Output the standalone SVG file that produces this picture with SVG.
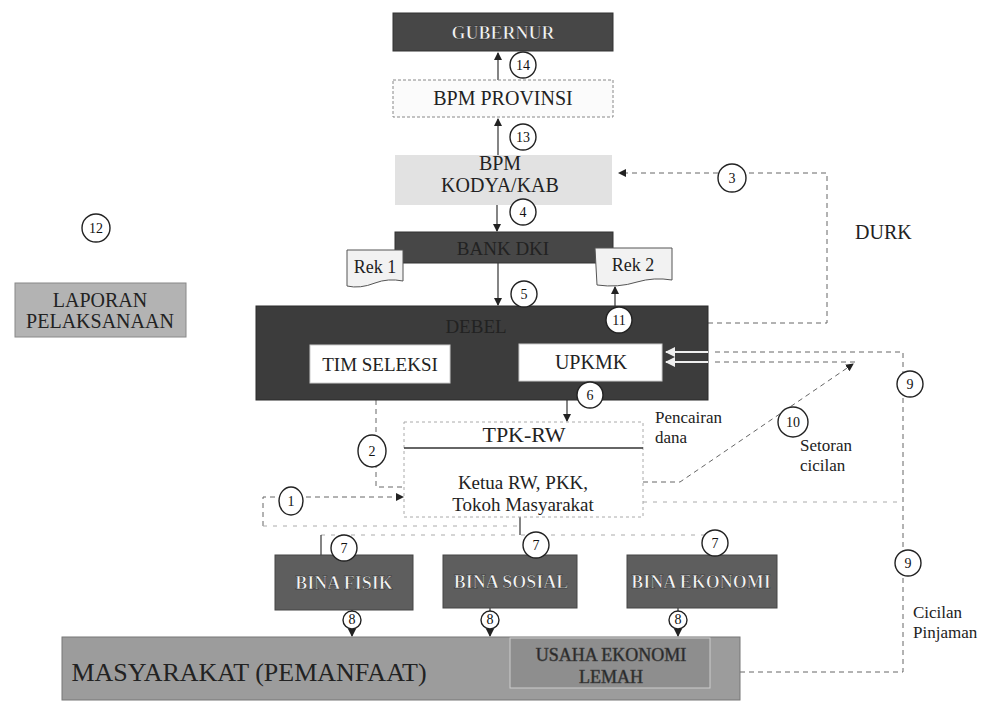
<svg xmlns="http://www.w3.org/2000/svg" width="994" height="702" viewBox="0 0 994 702">
<style>
.t{font-family:"Liberation Serif","DejaVu Serif",serif;fill:#222;text-anchor:middle}
.tw{font-family:"Liberation Serif","DejaVu Serif",serif;font-weight:bold;fill:#f4f4f4;text-anchor:middle;stroke:#222;stroke-width:0.5}
.tm{font-family:"Liberation Serif",serif;fill:#222;font-size:17px}
.n{font-family:"Liberation Serif",serif;font-size:14px;fill:#111;text-anchor:middle}
.c{fill:#fff;stroke:#222;stroke-width:1.4}
.ln{fill:none;stroke:#333;stroke-width:1.2}
.dl{fill:none;stroke:#666;stroke-width:1;stroke-dasharray:5 4}
.fl{fill:none;stroke:#aaa;stroke-width:1;stroke-dasharray:4 6}
.dark{fill:#474747;stroke:#333}
.mid{fill:#5e5e5e;stroke:#444}
</style>
<defs>
<marker id="ah" markerWidth="8" markerHeight="8" refX="7" refY="4" orient="auto" markerUnits="userSpaceOnUse"><path d="M0,0 L8,4 L0,8 z" fill="#222"/></marker>
<marker id="aw" markerWidth="10" markerHeight="10" refX="9" refY="5" orient="auto" markerUnits="userSpaceOnUse"><path d="M0,0 L10,5 L0,10 z" fill="#eee"/></marker>
</defs>
<rect width="994" height="702" fill="#fff"/>

<g id="connectors">
<path class="ln" d="M498,80 V53" marker-end="url(#ah)"/>
<path class="ln" d="M498,156 V119" marker-end="url(#ah)"/>
<path class="ln" d="M497,192 V231" marker-end="url(#ah)"/>
<path class="ln" d="M498,263 V305" marker-end="url(#ah)"/>
<path class="ln" d="M615,306 V287" marker-end="url(#ah)"/>
<path class="dl" d="M708,323 H827 V173 H619" marker-end="url(#ah)"/>
<path class="ln" d="M567,381 V421" marker-end="url(#ah)"/>
<path class="dl" d="M376,400 V487 H404"/>
<path class="dl" d="M263,526 V497 H403" marker-end="url(#ah)"/>
<path class="fl" d="M263,526 H520"/>
<path class="ln" d="M520,517 V535"/>
<path class="fl" d="M321,535 H715"/>
<path class="ln" d="M321,535 V555"/>
<path class="ln" d="M715,535 V545"/>
<path class="ln" d="M352,608 V636" marker-end="url(#ah)"/>
<path class="ln" d="M490,608 V636" marker-end="url(#ah)"/>
<path class="ln" d="M678,608 V636" marker-end="url(#ah)"/>
<path class="dl" d="M740,672 H903 V352 H712"/>
<path class="dl" d="M855,362 H712"/>
<path class="dl" d="M643,482 H680 L853,364" marker-end="url(#ah)"/>
<path class="fl" d="M643,502 H903"/>
</g>

<g id="gubernur"><rect x="393" y="13" width="220" height="38" class="dark"/><text x="503" y="39" class="tw" font-size="18">GUBERNUR</text></g>
<g id="bpm-provinsi"><rect x="393" y="80" width="220" height="37" fill="#fbfbfb" stroke="#888" stroke-dasharray="3 2"/><text x="503" y="105" class="t" font-size="20">BPM PROVINSI</text></g>
<g id="bpm-kodya"><rect x="395" y="155" width="217" height="50" fill="#e2e2e2"/><text x="500" y="170" class="t" font-size="20">BPM</text><text x="500" y="192" class="t" font-size="20">KODYA/KAB</text></g>
<g id="bank-dki"><rect x="395" y="232" width="218" height="31" class="dark"/><text x="503" y="255" class="t" font-size="19" fill="#2a2a2a">BANK DKI</text></g>
<g id="rek1"><path d="M347,250 H403 V281 Q388,278 375,283 Q360,289 347,286 Z" fill="#f2f2f2" stroke="#555"/><text x="375" y="273" class="t" font-size="18">Rek 1</text></g>
<g id="rek2"><path d="M595,248 H672 V280 Q654,277 637,282 Q618,288 597,285 Z" fill="#f2f2f2" stroke="#555"/><text x="633" y="271" class="t" font-size="18">Rek 2</text></g>
<g id="laporan"><rect x="15" y="283" width="171" height="54" fill="#b3b3b3" stroke="#888"/><text x="100" y="307" class="t" font-size="20">LAPORAN</text><text x="100" y="328" class="t" font-size="20">PELAKSANAAN</text></g>
<g id="debel"><rect x="256" y="306" width="452" height="94" fill="#3c3c3c" stroke="#2a2a2a"/><text x="476" y="333" class="t" font-size="19" fill="#1e1e1e">DEBEL</text></g>
<g id="tim-seleksi"><rect x="310" y="345" width="140" height="38" fill="#fff" stroke="#ccc"/><text x="380" y="371" class="t" font-size="19">TIM SELEKSI</text></g>
<g id="upkmk"><rect x="519" y="344" width="143" height="37" fill="#fff" stroke="#ccc"/><text x="591" y="369" class="t" font-size="20">UPKMK</text></g>
<g id="debel-arrows"><path d="M708,352 H666" stroke="#eee" stroke-width="2" marker-end="url(#aw)"/><path d="M708,362 H666" stroke="#eee" stroke-width="2" marker-end="url(#aw)"/></g>
<g id="tpk-rw"><rect x="404" y="422" width="239" height="95" fill="#fff" stroke="#aaa" stroke-dasharray="3 3"/><line x1="404" y1="448" x2="643" y2="448" stroke="#333" stroke-width="1.5"/><text x="524" y="442" class="t" font-size="22">TPK-RW</text><text x="523" y="489" class="t" font-size="19">Ketua RW, PKK,</text><text x="523" y="511" class="t" font-size="19">Tokoh Masyarakat</text></g>
<g id="bina-fisik"><rect x="275" y="555" width="138" height="55" class="mid"/><text x="344" y="589" class="tw" font-size="18">BINA FISIK</text></g>
<g id="bina-sosial"><rect x="443" y="555" width="134" height="53" class="mid"/><text x="511" y="588" class="tw" font-size="18">BINA SOSIAL</text></g>
<g id="bina-ekonomi"><rect x="627" y="555" width="150" height="53" class="mid"/><text x="701" y="588" class="tw" font-size="18">BINA EKONOMI</text></g>
<g id="masyarakat"><rect x="62" y="637" width="678" height="63" fill="#9c9c9c" stroke="#777"/><text x="249" y="681" class="t" font-size="26" fill="#333">MASYARAKAT (PEMANFAAT)</text></g>
<g id="usaha-ekonomi"><rect x="510" y="638" width="200" height="50" fill="#8e8e8e" stroke="#ccc"/><text x="611" y="661" class="t" font-size="18" fill="#e0e0e0" stroke="#444" stroke-width="0.6">USAHA EKONOMI</text><text x="611" y="683" class="t" font-size="18" fill="#e0e0e0" stroke="#444" stroke-width="0.6">LEMAH</text></g>

<g id="labels">
<text x="855" y="239" class="t" font-size="20" style="text-anchor:start">DURK</text>
<text x="655" y="423" class="tm">Pencairan</text><text x="655" y="443" class="tm">dana</text>
<text x="800" y="451" class="tm">Setoran</text><text x="800" y="471" class="tm">cicilan</text>
<text x="913" y="618" class="tm">Cicilan</text><text x="913" y="638" class="tm">Pinjaman</text>
</g>

<g id="markers">
<circle cx="523" cy="65" r="13" class="c"/><text x="523" y="70" class="n">14</text>
<circle cx="523" cy="137" r="13" class="c"/><text x="523" y="142" class="n">13</text>
<circle cx="523" cy="212" r="13" class="c"/><text x="523" y="217" class="n">4</text>
<circle cx="524" cy="294" r="13" class="c"/><text x="524" y="299" class="n">5</text>
<circle cx="619" cy="320" r="13" class="c"/><text x="619" y="325" class="n">11</text>
<circle cx="590" cy="395" r="13" class="c"/><text x="590" y="400" class="n">6</text>
<ellipse cx="372" cy="451" rx="14" ry="16" class="c"/><text x="372" y="456" class="n">2</text>
<ellipse cx="291" cy="501" rx="12" ry="14" class="c"/><text x="291" y="506" class="n">1</text>
<circle cx="732" cy="178" r="14" class="c"/><text x="732" y="183" class="n">3</text>
<circle cx="96" cy="228" r="14" class="c"/><text x="96" y="233" class="n">12</text>
<circle cx="793" cy="422" r="15" class="c"/><text x="793" y="427" class="n">10</text>
<circle cx="910" cy="384" r="13" class="c"/><text x="910" y="389" class="n">9</text>
<circle cx="908" cy="563" r="13" class="c"/><text x="908" y="568" class="n">9</text>
<circle cx="344" cy="548" r="13" class="c"/><text x="344" y="553" class="n">7</text>
<circle cx="536" cy="545" r="13" class="c"/><text x="536" y="550" class="n">7</text>
<circle cx="715" cy="543" r="13" class="c"/><text x="715" y="548" class="n">7</text>
<circle cx="352" cy="620" r="9" class="c"/><text x="352" y="624" class="n" font-size="11">8</text>
<circle cx="490" cy="620" r="9" class="c"/><text x="490" y="624" class="n" font-size="11">8</text>
<circle cx="678" cy="620" r="9" class="c"/><text x="678" y="624" class="n" font-size="11">8</text>
</g>
</svg>
